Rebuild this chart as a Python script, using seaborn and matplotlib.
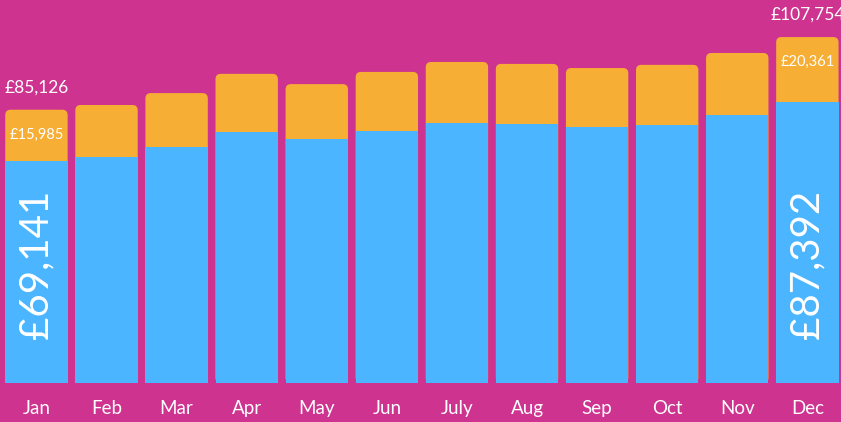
import numpy as np
import pandas as pd
import matplotlib
matplotlib.use('Agg')
import matplotlib.pyplot as plt
import seaborn as sns
from matplotlib.patches import FancyBboxPatch

months = ['Jan', 'Feb', 'Mar', 'Apr', 'May', 'Jun', 'July', 'Aug', 'Sep', 'Oct', 'Nov', 'Dec']
base = [69141, 70400, 73500, 78200, 76000, 78500, 81000, 80800, 79700, 80400, 83500, 87392]
extra = [15985, 16200, 16800, 18100, 17100, 18400, 19000, 18600, 18400, 18700, 19300, 20361]
total = [85126, 86600, 90300, 96300, 93100, 96900, 100000, 99400, 98100, 99100, 102800, 107754]

BG = '#CD338F'
BLUE = '#4BB5FF'
ORANGE = '#F7AE34'

df = pd.DataFrame({'month': months, 'base': base, 'extra': extra, 'total': total})

sns.set_style('white')
plt.rcParams['font.family'] = ['Lato', 'DejaVu Sans']

fig = plt.figure(figsize=(8.41, 4.22), dpi=100, facecolor=BG)
ax = fig.add_axes([0.0, (422 - 383) / 422, 1.0, 383 / 422])
ax.set_facecolor(BG)

sns.barplot(data=df, x='month', y='total', color=ORANGE, width=0.89, saturation=1,
            linewidth=0, ax=ax)
sns.barplot(data=df, x='month', y='base', color=BLUE, width=0.89, saturation=1,
            linewidth=0, ax=ax)

ymax = 119300
ax.set_ylim(0, ymax)
ax.set_xlim(-0.52, 11.48)

# swap the orange bars for rounded-top ones
x_px = 841 / 12.0
y_px = 383 / ymax
rad = 0.075
aspect = x_px / y_px
for p in list(ax.patches[:len(months)]):
    x, w, h = p.get_x(), p.get_width(), p.get_height()
    p.remove()
    fb = FancyBboxPatch((x, 0), w, h, boxstyle=f'round,pad=0,rounding_size={rad}',
                        mutation_aspect=aspect, fc=ORANGE, ec='none', zorder=1)
    ax.add_patch(fb)
for p in ax.patches:
    if not isinstance(p, FancyBboxPatch):
        p.set_zorder(2)

for s in ax.spines.values():
    s.set_visible(False)
ax.set_yticks([])
ax.set_xlabel('')
ax.set_ylabel('')
ax.tick_params(axis='x', length=0, pad=12, labelsize=13.5, labelcolor='white')

for i in [0, 11]:
    ax.annotate(f'£{df.total[i]:,}', (i, df.total[i]), xytext=(0, 16), textcoords='offset points',
                ha='center', va='center', color='white', fontsize=12.5, zorder=5)
    ax.annotate(f'£{df.extra[i]:,}', (i, df.total[i]), xytext=(0, -18), textcoords='offset points',
                ha='center', va='center', color='white', fontsize=10.5, zorder=5)
    ax.text(i, 0.31 * ymax, f'£{df.base[i]:,}', rotation=90, ha='center', va='center',
            color='white', fontsize=29, zorder=5)

fig.savefig('out.png', dpi=100, facecolor=BG)
